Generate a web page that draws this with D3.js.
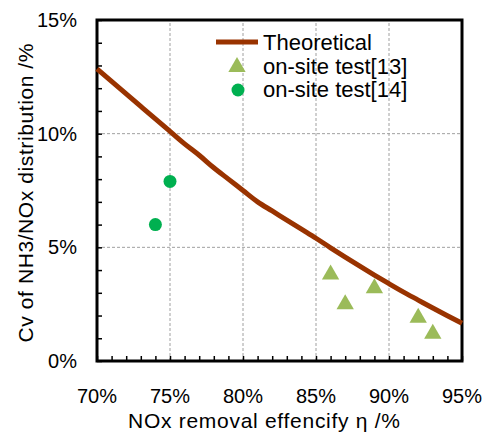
<!DOCTYPE html>
<html lang="en">
<head>
<meta charset="UTF-8">
<title>Cv vs NOx removal efficiency</title>
<script src="https://cdn.jsdelivr.net/npm/d3@7"></script>
<style>
  body { margin: 0; background: #fff; }
  svg text { font-family: "Liberation Sans", Arial, sans-serif; fill: #000; }
</style>
</head>
<body>
<div id="chart"></div>
<script>
// theoretical curve: removal efficiency (%) vs Cv (%)
const theoEta = [70, 71, 72, 73, 74, 75, 76, 77, 78, 79, 80, 81, 82, 83, 84, 85, 86, 87, 88, 89, 90, 91, 92, 93, 94, 95];
const theoCv  = [12.85, 12.3, 11.75, 11.2, 10.65, 10.1, 9.55, 9.05, 8.5, 8.0, 7.5, 7.0, 6.6, 6.2, 5.8, 5.4, 4.98, 4.57, 4.17, 3.78, 3.4, 3.03, 2.68, 2.33, 1.99, 1.66];

// on-site test [13]
const test13Eta = [86, 87, 89, 92, 93];
const test13Cv  = [3.8, 2.5, 3.2, 1.9, 1.2];

// on-site test [14]
const test14Eta = [74, 75];
const test14Cv  = [6.0, 7.9];

const xTicks = [70, 75, 80, 85, 90, 95];
const yTicks = [0, 5, 10, 15];
const legendLabels = ["Theoretical", "on-site test[13]", "on-site test[14]"];

const width = 483, height = 434;
const margin = {top: 20, right: 21, bottom: 73, left: 97};

const svg = d3.select("#chart").append("svg")
    .attr("width", width)
    .attr("height", height);

const x = d3.scaleLinear().domain([70, 95]).range([margin.left, width - margin.right]);
const y = d3.scaleLinear().domain([0, 15]).range([height - margin.bottom, margin.top]);

// grid
svg.append("g")
  .selectAll("line")
  .data(xTicks.slice(1, -1))
  .join("line")
    .attr("x1", d => x(d)).attr("x2", d => x(d))
    .attr("y1", y(0)).attr("y2", y(15))
    .attr("stroke", "#a0a0a0").attr("stroke-width", 1).attr("stroke-dasharray", "3,2");
svg.append("g")
  .selectAll("line")
  .data(yTicks.slice(1, -1))
  .join("line")
    .attr("y1", d => y(d)).attr("y2", d => y(d))
    .attr("x1", x(70)).attr("x2", x(95))
    .attr("stroke", "#a0a0a0").attr("stroke-width", 1).attr("stroke-dasharray", "3,2");

// minor ticks, pointing inward
svg.append("g")
  .attr("transform", `translate(0,${y(0)})`)
  .call(d3.axisTop(x).ticks(25).tickSize(5).tickFormat(""))
  .call(g => g.select(".domain").remove())
  .selectAll("line").attr("stroke", "#000").attr("stroke-width", 1.5);
svg.append("g")
  .attr("transform", `translate(${x(70)},0)`)
  .call(d3.axisRight(y).ticks(15).tickSize(5).tickFormat(""))
  .call(g => g.select(".domain").remove())
  .selectAll("line").attr("stroke", "#000").attr("stroke-width", 1.5);

// frame
svg.append("rect")
    .attr("x", x(70)).attr("y", y(15))
    .attr("width", x(95) - x(70)).attr("height", y(0) - y(15))
    .attr("fill", "none").attr("stroke", "#000").attr("stroke-width", 3);

// tick labels
svg.append("g")
  .selectAll("text")
  .data(xTicks)
  .join("text")
    .attr("x", d => x(d)).attr("y", y(0) + 42)
    .attr("text-anchor", "middle")
    .style("font-size", "20px")
    .text(d => d + "%");
svg.append("g")
  .selectAll("text")
  .data(yTicks)
  .join("text")
    .attr("x", x(70) - 20).attr("y", d => y(d) + 7)
    .attr("text-anchor", "end")
    .style("font-size", "20px")
    .text(d => d + "%");

// axis titles
svg.append("text")
    .attr("x", 264).attr("y", 428)
    .attr("text-anchor", "middle")
    .attr("textLength", 272)
    .style("font-size", "21px")
    .text("NOx removal effencify η /%");
svg.append("text")
    .attr("transform", "translate(33,193) rotate(-90)")
    .attr("text-anchor", "middle")
    .attr("textLength", 299)
    .style("font-size", "21px")
    .text("Cv of NH3/NOx distribution /%");

// theoretical curve
const line = d3.line()
    .x(d => x(d[0]))
    .y(d => y(d[1]))
    .curve(d3.curveMonotoneX);
svg.append("path")
    .datum(d3.zip(theoEta, theoCv))
    .attr("d", line)
    .attr("fill", "none")
    .attr("stroke", "#993300")
    .attr("stroke-width", 5);

// on-site test [13] triangles
const tri = d3.symbol().type(d3.symbolTriangle).size(130);
svg.append("g")
  .selectAll("path")
  .data(d3.zip(test13Eta, test13Cv))
  .join("path")
    .attr("d", tri)
    .attr("transform", d => `translate(${x(d[0])},${y(d[1])})`)
    .attr("fill", "#9bbb59");

// on-site test [14] circles
svg.append("g")
  .selectAll("circle")
  .data(d3.zip(test14Eta, test14Cv))
  .join("circle")
    .attr("cx", d => x(d[0])).attr("cy", d => y(d[1]))
    .attr("r", 6.5)
    .attr("fill", "#00b050");

// legend
const lg = svg.append("g");
lg.append("line")
    .attr("x1", 216).attr("x2", 258).attr("y1", 42).attr("y2", 42)
    .attr("stroke", "#993300").attr("stroke-width", 5);
lg.append("path")
    .attr("d", tri)
    .attr("transform", "translate(237,67)")
    .attr("fill", "#9bbb59");
lg.append("circle")
    .attr("cx", 238).attr("cy", 90).attr("r", 6.5)
    .attr("fill", "#00b050");
lg.selectAll("text")
  .data(legendLabels)
  .join("text")
    .attr("x", 263).attr("y", (d, i) => 50 + i * 23.7)
    .style("font-size", "22px")
    .text(d => d);
</script>
</body>
</html>
